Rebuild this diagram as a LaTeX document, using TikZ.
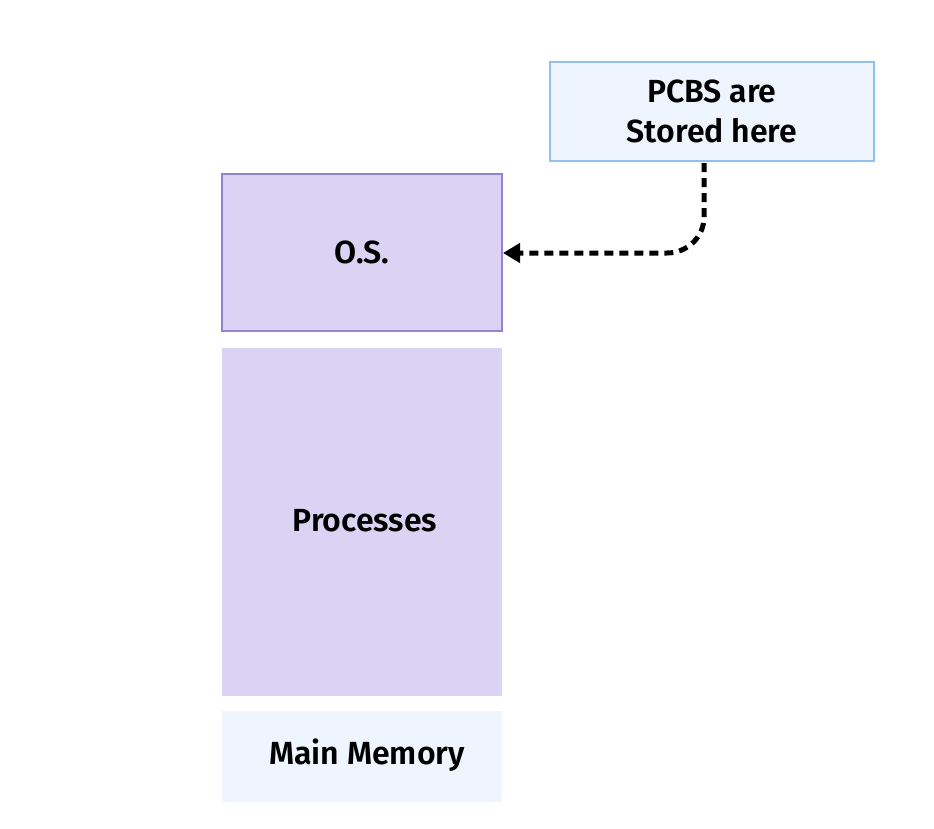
\documentclass[tikz,border=0pt]{standalone}
\usepackage{fontspec}
\setmainfont{Fira Sans}[BoldFont={Fira Sans SemiBold}]
\usetikzlibrary{arrows.meta}
\definecolor{lav}{HTML}{DAD3F3}
\definecolor{lavborder}{HTML}{9383D0}
\definecolor{lightblue}{HTML}{EEF5FE}
\definecolor{blueborder}{HTML}{92BFF0}
\tikzset{
  lbl/.style={font=\fontsize{32}{40}\selectfont\bfseries, text=black, align=center, inner sep=0pt}
}
\begin{document}
\begin{tikzpicture}[x=1pt,y=-1pt]
\useasboundingbox (0,0) rectangle (934,828);
\fill[white] (0,0) rectangle (934,828);
% PCBS box
\draw[blueborder, fill=lightblue, line width=1.4pt] (550,62) rectangle (874,161);
\node[lbl] (pcb) at (712,111) {PCBS are\\Stored here};
\coordinate (pcbS) at (704,163);
% O.S.
\draw[lavborder, fill=lav, line width=1.4pt] (222,174) rectangle (502,331);
\node[lbl] (os) at (362,252) {O.S.};
\coordinate (osE) at (503,253);
% Processes
\fill[lav] (222,348) rectangle (502,696);
\node[lbl] (proc) at (365,521) {Processes};
% Main memory
\fill[lightblue] (222,711) rectangle (502,802);
\node[lbl] (mem) at (367,755) {Main Memory};
% arrow
\draw[line width=5pt, dash pattern=on 9pt off 6pt, -{Triangle[length=17pt,width=19pt]}]
  (pcbS) -- (704,217) to[out=-90,in=0] (667,253) -- (osE);
\end{tikzpicture}
\end{document}
